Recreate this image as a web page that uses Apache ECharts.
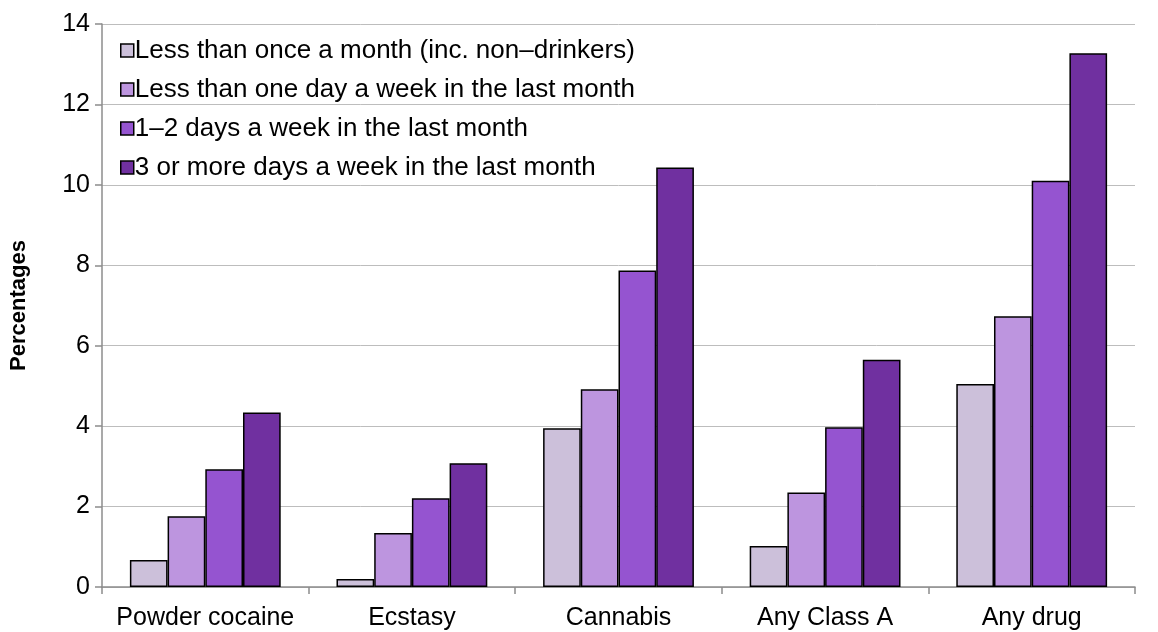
<!DOCTYPE html>
<html><head><meta charset="utf-8">
<script src="https://cdn.jsdelivr.net/npm/echarts@6/dist/echarts.min.js"></script>
<style>html,body{margin:0;padding:0;background:#fff}#c{width:1158px;height:632px}</style>
</head><body><div id="c"></div>
<script>
var categories = ['Powder cocaine', 'Ecstasy', 'Cannabis', 'Any Class A', 'Any drug'];
var seriesNames = ['Less than once a month (inc. non\u2013drinkers)', 'Less than one day a week in the last month', '1\u20132 days a week in the last month', '3 or more days a week in the last month'];
var lessMonthly = [0.67, 0.2, 3.95, 1.02, 5.05];
var lessWeekly = [1.76, 1.34, 4.92, 2.35, 6.73];
var oneTwoDays = [2.93, 2.21, 7.87, 3.97, 10.1];
var threePlus = [4.34, 3.08, 10.43, 5.65, 13.27];
var colors = ['#CCC0DA', '#BD95DF', '#9554D0', '#7030A0'];

var myChart = echarts.init(document.getElementById('c'));
var values = [lessMonthly, lessWeekly, oneTwoDays, threePlus];
var series = values.map(function (v, i) {
    return {
        name: seriesNames[i], type: 'bar', data: v, barGap: '0%', barCategoryGap: '27%',
        itemStyle: { color: colors[i], borderColor: '#000', borderWidth: 1.5 }
    };
});
option = {
    animation: false,
    textStyle: { fontFamily: 'Liberation Sans, Arial' },
    grid: { left: 96, right: 23, top: 24, bottom: 45 },
    legend: {
        orient: 'vertical', left: 115, top: 31, itemGap: 10,
        itemWidth: 13, itemHeight: 13, icon: 'rect',
        textStyle: { fontSize: 26, lineHeight: 29, color: '#000', padding: [0, 0, 0, -4] },
        itemStyle: { borderColor: '#000', borderWidth: 1.5 },
        data: seriesNames
    },
    xAxis: {
        type: 'category', data: categories,
        axisLine: { lineStyle: { color: '#8C8C8C', width: 1.5 } },
        axisTick: { show: true, length: 7, lineStyle: { color: '#8C8C8C', width: 1.5 } },
        axisLabel: { fontSize: 25, color: '#000', margin: 19, interval: 0 }
    },
    yAxis: {
        type: 'value', min: 0, max: 14, interval: 2,
        name: 'Percentages', nameLocation: 'middle', nameGap: 72,
        nameTextStyle: { fontSize: 22, fontWeight: 'bold', color: '#000' },
        axisLine: { show: true, lineStyle: { color: '#8C8C8C', width: 1.5 } },
        axisTick: { show: true, length: 7, inside: false, lineStyle: { color: '#8C8C8C', width: 1.5 } },
        axisLabel: { fontSize: 25, color: '#000', margin: 12 },
        splitLine: { show: true, lineStyle: { color: '#BDBDBD' } }
    },
    series: series
};
myChart.setOption(option, true);
</script></body></html>
